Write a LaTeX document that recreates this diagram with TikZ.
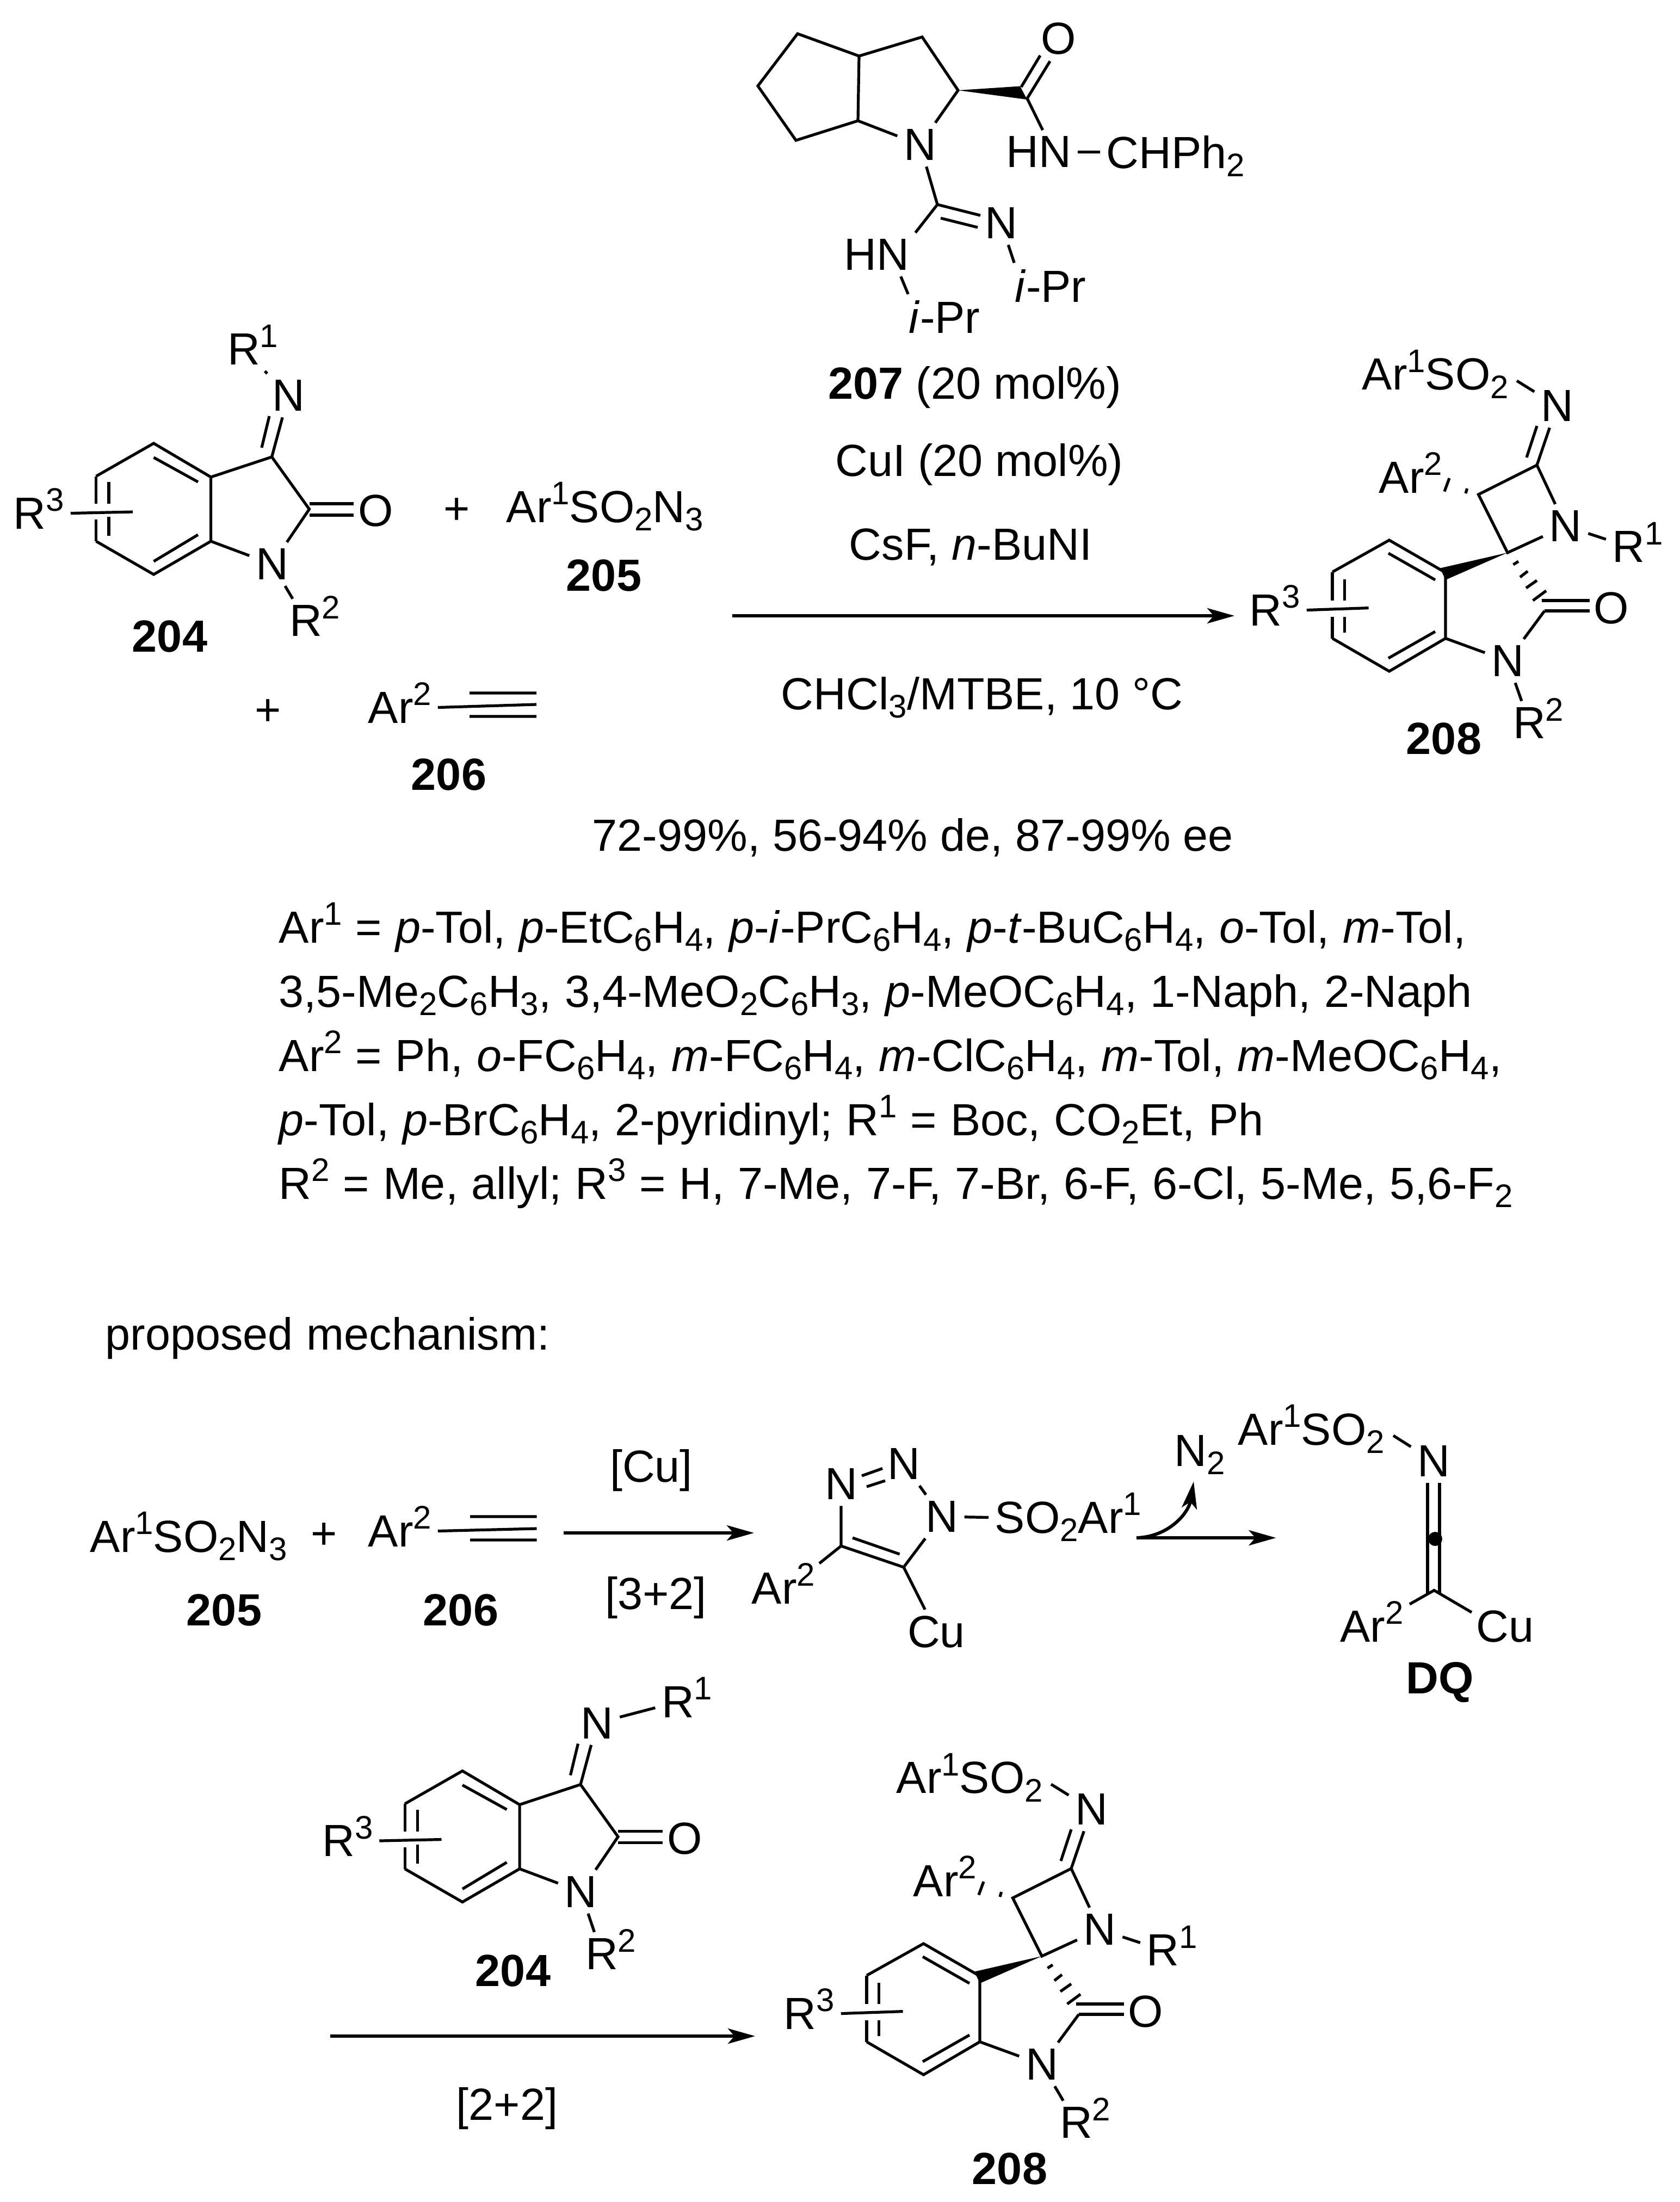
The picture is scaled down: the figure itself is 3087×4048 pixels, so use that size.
\documentclass[tikz,border=0pt]{standalone}
\usepackage{fontspec}
\setmainfont{Liberation Sans}
\usetikzlibrary{arrows.meta}
\newcommand{\chemfont}{\fontsize{20.7}{29.5}\selectfont}
\newcommand{\supr}[1]{\smash{\raisebox{.39em}{\fontsize{15}{15}\selectfont #1}}}
\newcommand{\subr}[1]{\smash{\raisebox{-.19em}{\fontsize{15}{15}\selectfont #1}}}
\newcommand{\Rs}[1]{R\rlap{\supr{#1}}}
\tikzset{atom/.style={inner sep=2.75pt, font=\chemfont},
         lab/.style={atom, anchor=base west},
         mid/.style={atom, anchor=base},
         para/.style={font={\chemfont\spaceskip=.3em\relax}, inner sep=0pt, anchor=base west},
         bond/.style={line width=1.3pt, line join=miter},
         rxn/.style={line width=1.5pt, -{Stealth[length=12.5pt,width=7pt,inset=3pt]}}}
% isatin imine, coordinates of the upper one; #1 = R1, #2 = R2
\newcommand{\isatin}[2]{
  \coordinate (a1) at (282.5,815);
  \coordinate (a2) at (176.6,875.5);
  \coordinate (a3) at (176.6,995);
  \coordinate (a4) at (282.5,1056);
  \coordinate (a5) at (387.6,995);
  \coordinate (a6) at (387.6,877);
  \coordinate (c3) at (499.6,840);
  \coordinate (c2) at (568.5,936);
  \coordinate (rend) at (244,941);
  \node[atom] (nim) at (530,727) {N};
  \node[atom] (r1) at (#1) {\Rs{1}};
  \node[atom] (nam) at (500,1037) {N};
  \node[atom] (r2) at (#2) {\Rs{2}};
  \node[atom] (oxo) at (691,939) {O};
  \node[lab] (r3) at (13,972) {R\supr{3}};
  \draw[bond] (a2) -- (a1) -- (a6) -- (a5) -- (a4) -- (a3);
  \draw[bond] (a6) -- (c3) -- (c2) -- (nam) -- (a5);
  \draw[bond] (a2) -- (176.6,926) (176.6,955) -- (a3);
  \draw[bond] (282.5,841) -- (364,886) (282.5,1032) -- (364,983);
  \draw[bond] (200,886) -- (200,926) (200,950) -- (200,985);
  \draw[bond] (c3) -- (nim) (481,823) -- (495,765);
  \draw[bond] (568.5,926) -- (650,926) (568.5,947) -- (650,947);
  \draw[bond] (nim) -- (r1) (nam) -- (r2) (r3.east) -- (rend);
}
% spiro product, coordinates of the upper one; #1 = R2
\newcommand{\spiro}[1]{
  \coordinate (b1) at (2553.5,993);
  \coordinate (b2) at (2449,1051.5);
  \coordinate (b3) at (2449,1173.5);
  \coordinate (b4) at (2553.5,1234);
  \coordinate (b5) at (2657,1173.5);
  \coordinate (b6) at (2657,1052.6);
  \coordinate (cs) at (2771,1016);
  \coordinate (ch) at (2717.5,909);
  \coordinate (ci) at (2825,855);
  \coordinate (co) at (2839,1123);
  \coordinate (rend) at (2515.6,1117.6);
  \coordinate (so) at (2788,700);
  \node[lab] (arso) at (2492,716.5) {Ar\supr{1}SO\subr{2}};
  \node[atom] (nim) at (2862,746) {N};
  \node[atom] (nam) at (2877.6,967) {N};
  \node[atom] (r1) at (2993.5,1005) {\Rs{1}};
  \node[lab] (artwo) at (2523,906) {Ar\supr{2}};
  \node[atom] (nox) at (2771,1215) {N};
  \node[atom] (r2) at (#1) {\Rs{2}};
  \node[atom] (oxo) at (2962,1117.6) {O};
  \node[lab] (r3) at (2285,1150) {R\supr{3}};
  \draw[bond] (b2) -- (b1) -- (b6) -- (b5) -- (b4) -- (b3);
  \draw[bond] (b2) -- (2449,1104) (2449,1134) -- (b3);
  \draw[bond] (2552,1017) -- (2638,1066) (2552,1210) -- (2638,1161);
  \draw[bond] (2471.5,1065) -- (2471.5,1104) (2471.5,1134) -- (2471.5,1162.6);
  \draw[bond] (r3.east) -- (rend);
  \fill (cs) -- (2647,1044.5) -- (2657,1066) -- cycle;
  \draw[bond] (nam) -- (cs) -- (ch) -- (ci) -- (nam);
  \draw[bond] (so) -- (nim) (ci) -- (nim) (2825,783) -- (2806,841);
  \draw[bond] (nam) -- (r1) (nox) -- (r2) (b5) -- (nox) -- (co);
  \draw[bond] (2833.5,1104) -- (2922,1104) (co) -- (2922,1123);
  \draw[bond] (2781.5,1038) -- (2791,1032) (2794,1061) -- (2808,1050)
    (2805,1081) -- (2825,1067) (2817.6,1104) -- (2842,1086);
  \draw[bond] (2664,879) -- (2655,903.5) (2696.6,898) -- (2694,907);
}
\begin{document}
\begin{tikzpicture}[x=.25pt,y=-.25pt]
  \useasboundingbox (0,0) rectangle (3087,4048);
  % catalyst
  \coordinate (p1) at (1466,62);
  \coordinate (p2) at (1393,158);
  \coordinate (p3) at (1463,258);
  \coordinate (p4) at (1577,222);
  \coordinate (p5) at (1579,103);
  \coordinate (p6) at (1695,68);
  \coordinate (p7) at (1761,166);
  \coordinate (cam) at (1888,181);
  \coordinate (cgu) at (1723,376);
  \node[atom] (npy) at (1691,266) {N};
  \node[atom] (ocat) at (1946,71) {O};
  \node[atom] (hna) at (1909.5,279.5) {HN};
  \node[lab] (chp) at (2022,309) {CHPh\subr{2}};
  \node[atom] (ngu) at (1840,410) {N};
  \node[atom] (hnb) at (1611,468) {HN};
  \node[lab] (ipra) at (1659,612.5) {\textit{i}-Pr};
  \node[lab] (iprb) at (1854,555) {\textit{i}-Pr};
  \draw[bond] (p5) -- (p1) -- (p2) -- (p3) -- (p4) -- (p5) -- (p6) -- (p7) -- (npy) -- (p4);
  \fill (p7) -- (1875,158.5) -- (1888,183) -- cycle;
  \draw[bond] (cam) -- (hna.80) (hna.east) -- (chp.west);
  \draw[bond] (1877,160) -- (1912,102) (1888,181) -- (1930,112.5);
  \draw[bond] (npy) -- (cgu) -- (hnb.north east) (hnb.-42) -- (ipra.148);
  \draw[bond] (cgu) -- (1802,396) (1729,401) -- (1797,418) (ngu) -- (iprb.148);
  \node[mid] (catlab) at (1792,733) {\textbf{207} (20 mol\%)};
  \node[mid] (cui) at (1800,875) {CuI (20 mol\%)};
  \node[mid] (csf) at (1784,1029) {CsF, \textit{n}-BuNI};
  \node[mid] (solv) at (1805,1304) {CHCl\subr{3}/MTBE, 10 °C};
  \coordinate (ra) at (1346,1132);
  \coordinate (rb) at (2269,1132);
  \draw[rxn] (ra) -- (rb);
  % reactants
  \begin{scope}[name prefix=u-]
    \isatin{448,642}{562,1141}
  \end{scope}
  \node[atom] (numa) at (312,1170) {\textbf{204}};
  \node[atom] (plusa) at (840,940) {+};
  \node[lab] (azide) at (919,960) {Ar\supr{1}SO\subr{2}N\subr{3}};
  \node[atom] (numb) at (1110,1058) {\textbf{205}};
  \node[atom] (plusb) at (493,1310) {+};
  \node[lab] (aryl) at (665,1329) {Ar\supr{2}};
  \coordinate (tre) at (986,1295);
  \draw[bond] (aryl.east) -- (tre) (863,1274) -- (986,1274) (863,1317) -- (986,1317);
  \node[atom] (numc) at (825,1424) {\textbf{206}};
  % product
  \begin{scope}[name prefix=v-]
    \spiro{2811,1329}
  \end{scope}
  \node[atom] (numd) at (2654,1358) {\textbf{208}};
  % scope of the reaction
  \node[mid] (yield) at (1678,1564) {72-99\%, 56-94\% de, 87-99\% ee};
  \node[para] (la) at (512,1733) {Ar\supr{1} = \textit{p}-Tol, \textit{p}-EtC\subr{6}H\subr{4}, \textit{p}-\textit{i}-PrC\subr{6}H\subr{4}, \textit{p}-\textit{t}-BuC\subr{6}H\subr{4}, \textit{o}-Tol, \textit{m}-Tol,};
  \node[para] (lb) at (512,1851) {3,5-Me\subr{2}C\subr{6}H\subr{3}, 3,4-MeO\subr{2}C\subr{6}H\subr{3}, \textit{p}-MeOC\subr{6}H\subr{4}, 1-Naph, 2-Naph};
  \node[para] (lc) at (512,1969) {Ar\supr{2} = Ph, \textit{o}-FC\subr{6}H\subr{4}, \textit{m}-FC\subr{6}H\subr{4}, \textit{m}-ClC\subr{6}H\subr{4}, \textit{m}-Tol, \textit{m}-MeOC\subr{6}H\subr{4},};
  \node[para] (ld) at (512,2087) {\textit{p}-Tol, \textit{p}-BrC\subr{6}H\subr{4}, 2-pyridinyl; R\supr{1} = Boc, CO\subr{2}Et, Ph};
  \node[para] (le) at (512,2204) {R\supr{2} = Me, allyl; R\supr{3} = H, 7-Me, 7-F, 7-Br, 6-F, 6-Cl, 5-Me, 5,6-F\subr{2}};
  \node[para] (mech) at (193,2481) {proposed mechanism:};
  % mechanism, first row
  \node[lab] (azidem) at (154,2853) {Ar\supr{1}SO\subr{2}N\subr{3}};
  \node[atom] (plusc) at (596,2824) {+};
  \node[lab] (arylm) at (665,2843) {Ar\supr{2}};
  \coordinate (trm) at (986.5,2810);
  \draw[bond] (arylm.east) -- (trm) (864,2788) -- (986.5,2788) (864,2831) -- (986.5,2831);
  \node[atom] (nume) at (412,2960) {\textbf{205}};
  \node[atom] (numf) at (847,2960) {\textbf{206}};
  \coordinate (rc) at (1036,2818);
  \coordinate (rd) at (1386,2818);
  \draw[rxn] (rc) -- (rd);
  \node[mid] (cucat) at (1197,2724) {[Cu]};
  \node[mid] (cyca) at (1205.5,2958) {[3+2]};
  % triazole
  \coordinate (t4) at (1546,2842);
  \coordinate (t5) at (1661,2881);
  \coordinate (tar) at (1506,2874);
  \node[atom] (na) at (1546,2728) {N};
  \node[atom] (nb) at (1661,2691) {N};
  \node[atom] (nc) at (1731,2788) {N};
  \node[lab] (sulf) at (1817,2818) {SO\subr{2}Ar\supr{1}};
  \node[lab] (artri) at (1370,2948) {Ar\supr{2}};
  \node[atom] (cutri) at (1721,3000) {Cu};
  \draw[bond] (na) -- (t4) -- (t5) -- (nc) -- (nb);
  \draw[bond] (1584,2713) -- (1622,2699.5) (1593,2733) -- (1627,2722);
  \draw[bond] (1567,2827) -- (1653.6,2857);
  \draw[bond] (t4) -- (tar) (t5) -- (cutri) (nc) -- (sulf.west);
  \coordinate (re) at (2089,2827);
  \coordinate (rf) at (2345.5,2827);
  \coordinate (rg) at (2194,2723.5);
  \draw[rxn] (re) -- (rf);
  \draw[rxn] (re) .. controls (2150,2825) and (2185,2780) .. (rg);
  \node[lab] (ntwo) at (2147,2695) {N\subr{2}};
  % intermediate
  \coordinate (dq) at (2636,2923.5);
  \coordinate (sodq) at (2561,2639);
  \coordinate (dqar) at (2591,2949);
  \coordinate (dqcu) at (2705,2964);
  \node[lab] (arsodq) at (2264,2656) {Ar\supr{1}SO\subr{2}};
  \node[atom] (ndq) at (2635,2686) {N};
  \node[lab] (ardq) at (2451.5,3018) {Ar\supr{2}};
  \node[lab] (cudq) at (2701.5,3018) {Cu};
  \node[atom] (dqlab) at (2647,3093) {\textbf{DQ}};
  \draw[bond] (sodq) -- (ndq);
  \draw[bond] (2624,2726) -- (2624,2929) (2646,2726) -- (2646,2929);
  \draw[bond] (dqar) -- (dq) -- (dqcu);
  \fill (2638,2829) circle[radius=13];
  % mechanism, second row
  \begin{scope}[shift={(567.5,2440.5)}, name prefix=w-]
    \isatin{678.5,688}{538.5,1151.5}
  \end{scope}
  \node[atom] (numg) at (943,3623) {\textbf{204}};
  \coordinate (rh) at (607,3743);
  \coordinate (ri) at (1388,3743);
  \draw[rxn] (rh) -- (ri);
  \node[mid] (cycb) at (932,3897.5) {[2+2]};
  \begin{scope}[shift={(-856,2580)}, name prefix=x-]
    \spiro{2834,1322}
  \end{scope}
  \node[atom] (numh) at (1856,3987) {\textbf{208}};
\end{tikzpicture}
\end{document}
